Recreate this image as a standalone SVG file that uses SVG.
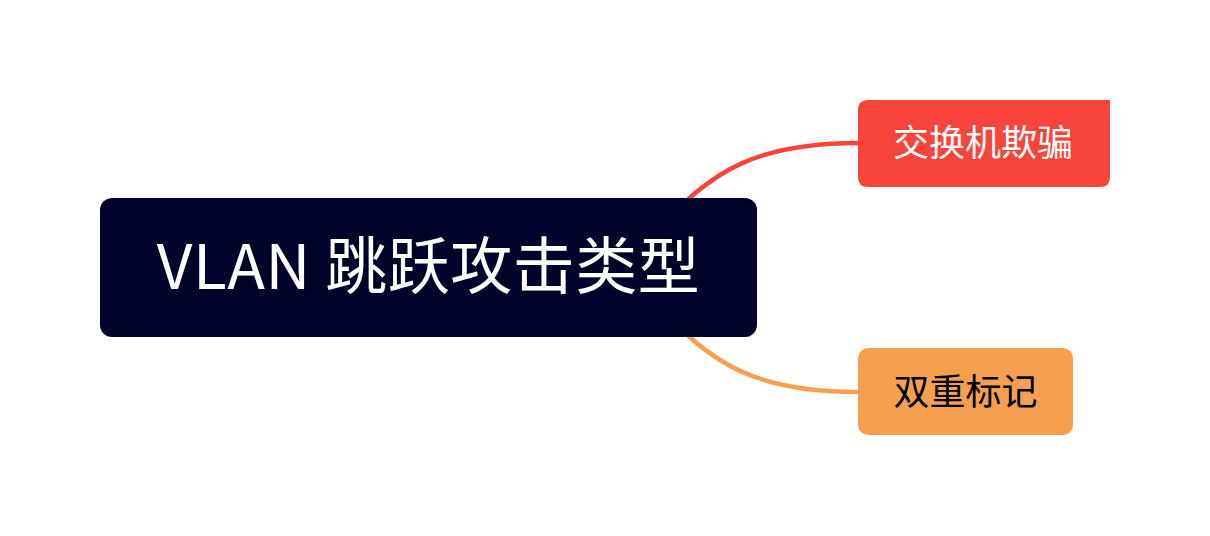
<svg xmlns="http://www.w3.org/2000/svg" width="1210" height="536" viewBox="0 0 1210 536">
<style>
.conn{fill:none;stroke-width:4.5;stroke-linecap:round}
.t{font-family:"Noto Sans CJK SC","Noto Sans",sans-serif}
</style>
<rect width="1210" height="536" fill="#ffffff"/>
<g id="connectors">
<path class="conn" stroke="#F9443B" d="M 650 240 C 710 165, 765 143, 858 143"/>
<path class="conn" stroke="#F5A04F" d="M 650 295 C 710 370, 765 392, 858 392"/>
</g>
<g id="root">
<rect x="100" y="198" width="657" height="139" rx="12" fill="#00022A"/>
<text class="t" x="428.5" y="289" font-size="62" fill="#ffffff" text-anchor="middle" letter-spacing="0.5">VLAN 跳跃攻击类型</text>
</g>
<g id="node-switch-spoofing">
<path d="M 868 100 L 1110 100 L 1110 177 Q 1110 187 1100 187 L 868 187 Q 858 187 858 177 L 858 110 Q 858 100 868 100 Z" fill="#F9443B"/>
<text class="t" x="983" y="156" font-size="36" fill="#ffffff" text-anchor="middle">交换机欺骗</text>
</g>
<g id="node-double-tagging">
<rect x="858" y="348" width="215" height="87" rx="10" fill="#F5A04F"/>
<text class="t" x="965.5" y="405" font-size="36" fill="#000000" text-anchor="middle">双重标记</text>
</g>
</svg>
